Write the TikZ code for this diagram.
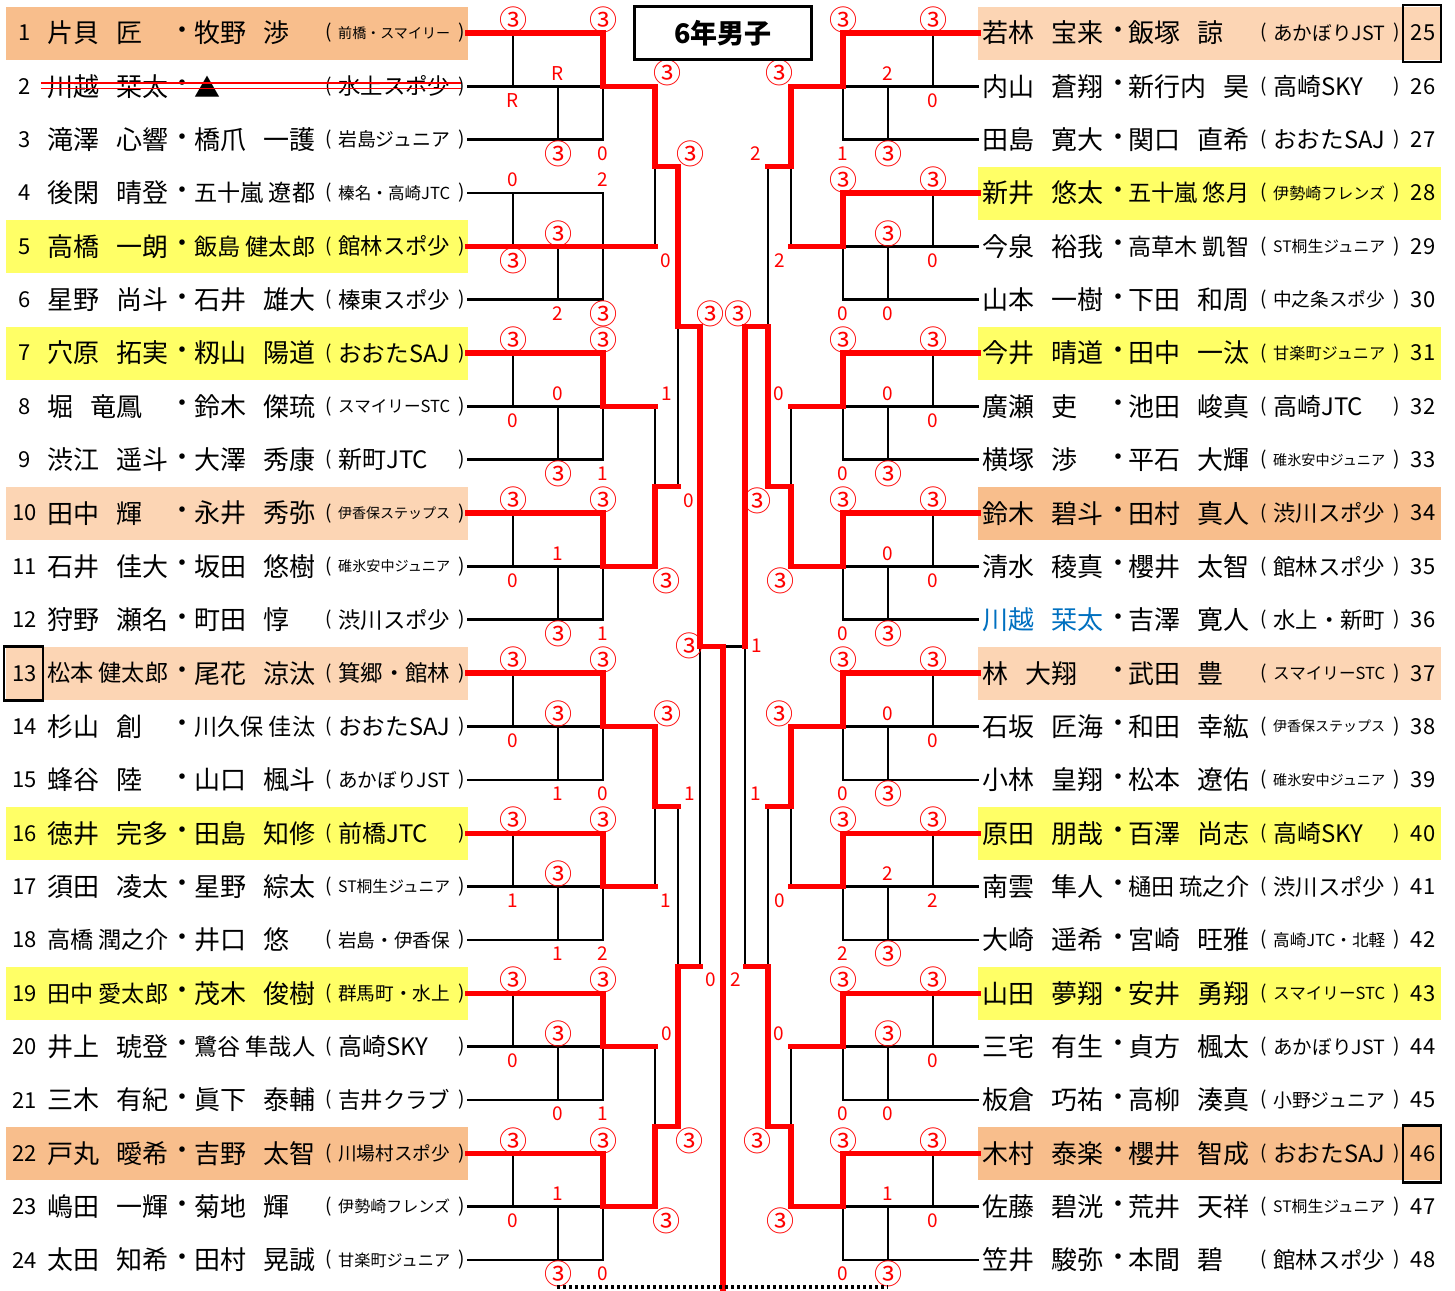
\documentclass[tikz,border=0pt]{standalone}
\usepackage{fontspec}
\usepackage{graphicx}
\setmainfont{Noto Sans CJK JP}

\definecolor{seedA}{RGB}{248,190,140}
\definecolor{seedB}{RGB}{252,213,180}
\definecolor{hiY}{RGB}{255,255,102}
\definecolor{blueN}{RGB}{0,112,192}

\pgfdeclarelayer{back}
\pgfdeclarelayer{bg}
\pgfsetlayers{back,bg,main}

\newsavebox\fitbox
\newcommand\fitw[2]{\sbox\fitbox{#2}\ifdim\wd\fitbox>#1\resizebox{#1}{!}{\usebox\fitbox}\else\usebox\fitbox\fi}
\newcommand\pn[2]{\sbox\fitbox{#1\hspace{17pt}#2}\ifdim\wd\fitbox>121pt\fitw{121pt}{#1\hspace{6pt}#2}\else\usebox\fitbox\fi}
\newcommand\ci{{\fontsize{28}{28}\selectfont ③}}

\tikzset{
  blk/.style={line width=2.8pt,line cap=rect},
  win/.style={draw=red,line width=5.5pt,line cap=rect},
  sc/.style={text=red,inner sep=0pt,font=\fontsize{19}{19}\selectfont},
  nm/.style={anchor=west,inner sep=0pt,font=\fontsize{26}{26}\selectfont},
  num/.style={inner sep=0pt,font=\fontsize{22}{22}\selectfont},
  tm/.style={anchor=west,inner sep=0pt,font=\fontsize{24}{24}\selectfont},
  par/.style={inner sep=0pt,font=\fontsize{19}{19}\selectfont},
  boxn/.style={draw,line width=2.6pt},
}

% one group of three: #1 index, #2 winner (a/b), #3-#8 scores
\newcommand\grp[8]{%
  \pgfmathsetmacro\ya{33+3*#1*53.35}
  \pgfmathsetmacro\yb{\ya+53.35}
  \pgfmathsetmacro\yc{\ya+106.7}
  \begin{pgfonlayer}{bg}
  \if#2a
    \draw[blk] (468,\yb) -- (603,\yb) (468,\yc) -- (603,\yc)
      (513,\ya) -- (513,\yb) (558,\yb) -- (558,\yc) (603,\yb) -- (603,\yc);
  \else
    \draw[blk] (468,\ya) -- (603,\ya) (468,\yc) -- (603,\yc)
      (513,\ya) -- (513,\yb) (558,\yb) -- (558,\yc) (603,\ya) -- (603,\yc);
  \fi
  \end{pgfonlayer}
  \if#2a
    \draw[win] (468,\ya) -- (603,\ya) -- (603,\yb) -- (655,\yb);
  \else
    \draw[win] (468,\yb) -- (655,\yb);
  \fi
  \node[sc] (\sd#1a) at (513,\ya-13) {#3};
  \node[sc] (\sd#1b) at (603,\ya-13) {#4};
  \node[sc] (\sd#1c) at (558,\yb-13) {#5};
  \node[sc] (\sd#1d) at (513,\yb+14) {#6};
  \node[sc] (\sd#1e) at (558,\yc+14) {#7};
  \node[sc] (\sd#1f) at (603,\yc+14) {#8};
}

% one match between two lines: #1 name, #2 x, #3 x out, #4 top, #5 bottom, #6 winner (t/b), #7 #8 scores
\newcommand\rnd[8]{%
  \pgfmathsetmacro\ym{(#4+#5)/2}
  \if#6t
    \begin{pgfonlayer}{bg}\draw[blk] (#2,\ym) -- (#2,#5);\end{pgfonlayer}
    \draw[win] (#2,#4) -- (#2,\ym) -- (#3,\ym);
  \else
    \begin{pgfonlayer}{bg}\draw[blk] (#2,#4) -- (#2,\ym);\end{pgfonlayer}
    \draw[win] (#2,#5) -- (#2,\ym) -- (#3,\ym);
  \fi
  \node[sc] (\sd#1t) at (#2+12,#4-13) {#7};
  \node[sc] (\sd#1b) at (#2+11,#5+14) {#8};
}

\begin{document}
\begin{tikzpicture}[x=1pt,y=-1pt]
\useasboundingbox (0,0) rectangle (1455,1290);

% highlighted rows
\begin{pgfonlayer}{back}
\foreach \i/\col in {1/seedA,5/hiY,7/hiY,10/seedB,13/seedB,16/hiY,19/hiY,22/seedA}{
  \pgfmathsetmacro\y{33+(\i-1)*53.35}
  \fill[fill=\col] (6,\y-26) rectangle (468,\y+27);
}
\foreach \i/\col in {25/seedB,28/hiY,31/hiY,34/seedA,37/seedB,40/hiY,43/hiY,46/seedA}{
  \pgfmathsetmacro\y{33+(\i-25)*53.35}
  \fill[fill=\col] (978,\y-26) rectangle (1441,\y+27);
}
\end{pgfonlayer}

% left entries
\foreach \i/\fa/\fb/\fc/\fd/\tn in {
  1/片貝/匠/牧野/渉/前橋・スマイリー,
  2/川越/栞太/▲//水上スポ少,
  3/滝澤/心響/橋爪/一護/岩島ジュニア,
  4/後閑/晴登/五十嵐/遼都/榛名・高崎JTC,
  5/高橋/一朗/飯島/健太郎/館林スポ少,
  6/星野/尚斗/石井/雄大/榛東スポ少,
  7/穴原/拓実/籾山/陽道/おおたSAJ,
  8/堀/竜鳳/鈴木/傑琉/スマイリーSTC,
  9/渋江/遥斗/大澤/秀康/新町JTC,
  10/田中/輝/永井/秀弥/伊香保ステップス,
  11/石井/佳大/坂田/悠樹/碓氷安中ジュニア,
  12/狩野/瀬名/町田/惇/渋川スポ少,
  13/松本/健太郎/尾花/涼汰/箕郷・館林,
  14/杉山/創/川久保/佳汰/おおたSAJ,
  15/蜂谷/陸/山口/楓斗/あかぼりJST,
  16/徳井/完多/田島/知修/前橋JTC,
  17/須田/凌太/星野/綜太/ST桐生ジュニア,
  18/高橋/潤之介/井口/悠/岩島・伊香保,
  19/田中/愛太郎/茂木/俊樹/群馬町・水上,
  20/井上/琥登/鷺谷/隼哉人/高崎SKY,
  21/三木/有紀/眞下/泰輔/吉井クラブ,
  22/戸丸/曖希/吉野/太智/川場村スポ少,
  23/嶋田/一輝/菊地/輝/伊勢崎フレンズ,
  24/太田/知希/田村/晃誠/甘楽町ジュニア}{
  \pgfmathsetmacro\y{33+(\i-1)*53.35}
  \node[num] (n\i) at (25,\y) {\i};
  \node[nm] (p\i) at (47,\y) {\pn{\fa}{\fb}};
  \node[nm,anchor=center] (d\i) at (182,\y) {・};
  \node[nm] (q\i) at (194,\y) {\pn{\fc}{\fd}};
  \node[par] (o\i) at (329,\y) {(};
  \node[tm] (t\i) at (338,\y) {\fitw{112pt}{\tn}};
  \node[par] (c\i) at (462,\y) {)};
}

% right entries
\foreach \i/\fa/\fb/\fc/\fd/\tn in {
  25/若林/宝来/飯塚/諒/あかぼりJST,
  26/内山/蒼翔/新行内/昊/高崎SKY,
  27/田島/寛大/関口/直希/おおたSAJ,
  28/新井/悠太/五十嵐/悠月/伊勢崎フレンズ,
  29/今泉/裕我/高草木/凱智/ST桐生ジュニア,
  30/山本/一樹/下田/和周/中之条スポ少,
  31/今井/晴道/田中/一汰/甘楽町ジュニア,
  32/廣瀬/吏/池田/峻真/高崎JTC,
  33/横塚/渉/平石/大輝/碓氷安中ジュニア,
  34/鈴木/碧斗/田村/真人/渋川スポ少,
  35/清水/稜真/櫻井/太智/館林スポ少,
  36/\textcolor{blueN}{川越}/\textcolor{blueN}{栞太}/吉澤/寛人/水上・新町,
  37/林/大翔/武田/豊/スマイリーSTC,
  38/石坂/匠海/和田/幸紘/伊香保ステップス,
  39/小林/皇翔/松本/遼佑/碓氷安中ジュニア,
  40/原田/朋哉/百澤/尚志/高崎SKY,
  41/南雲/隼人/樋田/琉之介/渋川スポ少,
  42/大崎/遥希/宮崎/旺雅/高崎JTC・北軽,
  43/山田/夢翔/安井/勇翔/スマイリーSTC,
  44/三宅/有生/貞方/楓太/あかぼりJST,
  45/板倉/巧祐/高柳/湊真/小野ジュニア,
  46/木村/泰楽/櫻井/智成/おおたSAJ,
  47/佐藤/碧洸/荒井/天祥/ST桐生ジュニア,
  48/笠井/駿弥/本間/碧/館林スポ少}{
  \pgfmathsetmacro\y{33+(\i-25)*53.35}
  \node[nm] (p\i) at (982,\y) {\pn{\fa}{\fb}};
  \node[nm,anchor=center] (d\i) at (1118,\y) {・};
  \node[nm] (q\i) at (1128,\y) {\pn{\fc}{\fd}};
  \node[par] (o\i) at (1264,\y) {(};
  \node[tm] (t\i) at (1273,\y) {\fitw{112pt}{\tn}};
  \node[par] (c\i) at (1397,\y) {)};
  \node[num] (n\i) at (1423,\y) {\i};
}

% withdrawn pair
\draw[red,line width=1.6pt] (41,83) -- (461,83) (41,88.5) -- (461,88.5);

% boxed numbers
\draw[boxn] (n13.center) +(-21,-27) rectangle +(18,27);
\draw[boxn] (n25.center) +(-20,-28) rectangle +(18,29);
\draw[boxn] (n46.center) +(-20,-28) rectangle +(18,29);

% left half
\def\sd{L}
\grp{0}{a}{\ci}{\ci}{R}{R}{\ci}{0}
\grp{1}{b}{0}{2}{\ci}{\ci}{2}{\ci}
\grp{2}{a}{\ci}{\ci}{0}{0}{\ci}{1}
\grp{3}{a}{\ci}{\ci}{1}{0}{\ci}{1}
\grp{4}{a}{\ci}{\ci}{\ci}{0}{1}{0}
\grp{5}{a}{\ci}{\ci}{\ci}{1}{1}{2}
\grp{6}{a}{\ci}{\ci}{\ci}{0}{0}{1}
\grp{7}{a}{\ci}{\ci}{1}{0}{\ci}{0}
\rnd{m1}{655}{678}{86.35}{246.4}{t}{\ci}{0}
\rnd{m2}{655}{678}{406.45}{566.5}{b}{1}{\ci}
\rnd{m3}{655}{678}{726.55}{886.6}{t}{\ci}{1}
\rnd{m4}{655}{678}{1046.65}{1206.7}{b}{0}{\ci}
\rnd{q1}{678}{700}{166.375}{486.475}{t}{\ci}{0}
\rnd{q2}{678}{700}{806.575}{1126.675}{b}{1}{\ci}

% right half, mirrored
\begin{scope}[xshift=1446pt,xscale=-1]
\def\sd{R}
\grp{0}{a}{\ci}{\ci}{2}{0}{\ci}{1}
\grp{1}{a}{\ci}{\ci}{\ci}{0}{0}{0}
\grp{2}{a}{\ci}{\ci}{0}{0}{\ci}{0}
\grp{3}{a}{\ci}{\ci}{0}{0}{\ci}{0}
\grp{4}{a}{\ci}{\ci}{0}{0}{\ci}{0}
\grp{5}{a}{\ci}{\ci}{2}{2}{\ci}{2}
\grp{6}{a}{\ci}{\ci}{\ci}{0}{0}{0}
\grp{7}{a}{\ci}{\ci}{1}{0}{\ci}{0}
\rnd{m1}{655}{678}{86.35}{246.4}{t}{\ci}{2}
\rnd{m2}{655}{678}{406.45}{566.5}{b}{0}{\ci}
\rnd{m3}{655}{678}{726.55}{886.6}{t}{\ci}{0}
\rnd{m4}{655}{678}{1046.65}{1206.7}{b}{0}{\ci}
\rnd{q1}{678}{700}{166.375}{486.475}{b}{2}{\ci}
\rnd{q2}{678}{700}{806.575}{1126.675}{b}{1}{\ci}
\end{scope}

% semifinals and final
\begin{pgfonlayer}{bg}
\draw[blk] (700,646.525) -- (700,966.625);
\draw[blk] (745,646.525) -- (745,966.625) (723,646.525) -- (745,646.525);
\end{pgfonlayer}
\draw[win] (745,326.425) -- (745,646.525);
\draw[win] (700,326.425) -- (700,646.525) -- (723,646.525) -- (723,1290);
\node[sc] (sl1) at (710,314) {\ci};
\node[sc] (sl2) at (711,980) {0};
\node[sc] (sr1) at (738,314) {\ci};
\node[sc] (sr2) at (736,980) {2};
\node[sc] (fl) at (689,646) {\ci};
\node[sc] (fr) at (757,646) {1};
\draw[line width=3.2pt,dash pattern=on 3pt off 3pt] (557,1287) -- (888,1287);

% title
\node[draw,line width=3pt,minimum width=177pt,minimum height=53pt,inner sep=0pt,
  font=\bfseries\fontsize{27}{27}\selectfont] (ttl) at (723,33.5) {6年男子};
\end{tikzpicture}
\end{document}
